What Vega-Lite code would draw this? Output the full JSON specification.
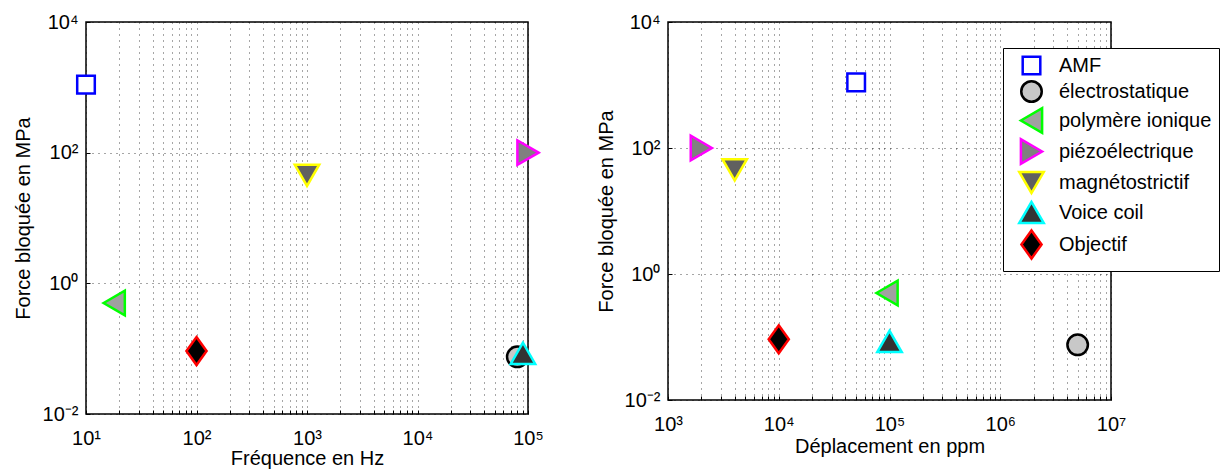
{
  "$schema": "https://vega.github.io/schema/vega-lite/v6.json",
  "padding": {"left": 12, "top": 11, "right": 5, "bottom": 5},
  "background": "white",
  "config": {
    "font": "Liberation Sans",
    "view": {"stroke": "black", "strokeWidth": 1.5},
    "axis": {
      "domain": false,
      "labelFontSize": 20,
      "titleFontSize": 20,
      "titleFontWeight": "normal",
      "labelColor": "black",
      "titleColor": "black",
      "tickColor": "black",
      "tickSize": -4,
      "gridDash": [1, 5],
      "gridColor": "black",
      "gridOpacity": 0.7,
      "gridWidth": 1,
      "labelOverlap": false,
      "labelFlush": false,
      "labelBound": false
    },
    "legend": {
      "labelFontSize": 20,
      "labelColor": "black",
      "symbolStrokeWidth": 2.5,
      "strokeColor": "black",
      "fillColor": "white",
      "padding": 7,
      "cornerRadius": 0,
      "rowPadding": -11,
      "symbolOffset": 6,
      "labelOffset": 12
    }
  },
  "datasets": {
    "freq": [
      {"type": "AMF", "frequence_hz": 10, "force_mpa": 1100},
      {"type": "électrostatique", "frequence_hz": 80000, "force_mpa": 0.075},
      {"type": "polymère ionique", "frequence_hz": 18, "force_mpa": 0.5},
      {"type": "piézoélectrique", "frequence_hz": 100000, "force_mpa": 100},
      {"type": "magnétostrictif", "frequence_hz": 1000, "force_mpa": 45},
      {"type": "Voice coil", "frequence_hz": 90000, "force_mpa": 0.085},
      {"type": "Objectif", "frequence_hz": 100, "force_mpa": 0.092}
    ],
    "depl": [
      {"type": "AMF", "deplacement_ppm": 50000, "force_mpa": 1100},
      {"type": "électrostatique", "deplacement_ppm": 5000000, "force_mpa": 0.075},
      {"type": "polymère ionique", "deplacement_ppm": 95000, "force_mpa": 0.5},
      {"type": "piézoélectrique", "deplacement_ppm": 2000, "force_mpa": 100},
      {"type": "magnétostrictif", "deplacement_ppm": 4000, "force_mpa": 45},
      {"type": "Voice coil", "deplacement_ppm": 100000, "force_mpa": 0.085},
      {"type": "Objectif", "deplacement_ppm": 10000, "force_mpa": 0.092}
    ]
  },
  "bounds": "flush",
  "spacing": 140,
  "resolve": {
    "scale": {"shape": "independent", "fill": "independent", "stroke": "independent", "size": "independent"},
    "legend": {"shape": "independent", "fill": "independent", "stroke": "independent", "size": "independent"}
  },
  "hconcat": [
    {
      "width": 442,
      "height": 392,
      "data": {"name": "freq"},
      "mark": {"type": "point", "filled": true, "strokeWidth": 2.5, "opacity": 1, "fillOpacity": 1, "strokeOpacity": 1},
      "encoding": {
        "x": {
          "field": "frequence_hz", "type": "quantitative",
          "scale": {"type": "log", "domain": [10, 100000], "nice": false},
          "axis": {
            "title": "Fréquence en Hz",
            "values": [10,20,30,40,50,60,70,80,90,100,200,300,400,500,600,700,800,900,1000,2000,3000,4000,5000,6000,7000,8000,9000,10000,20000,30000,40000,50000,60000,70000,80000,90000,100000],
            "labelExpr": "(abs(log(datum.value)/LN10 - round(log(datum.value)/LN10)) < 0.001) ? ('10' + (round(log(datum.value)/LN10) < 0 ? '⁻' : '') + ['⁰','¹','²','³','⁴','⁵','⁶','⁷','⁸','⁹'][abs(round(log(datum.value)/LN10))]) : ''",
            "grid": true,
            "labelPadding": 18,
            "titlePadding": 0
          }
        },
        "y": {
          "field": "force_mpa", "type": "quantitative",
          "scale": {"type": "log", "domain": [0.01, 10000], "nice": false},
          "axis": {
            "title": "Force bloquée en MPa",
            "values": [0.01, 1, 100, 10000],
            "labelExpr": "'10' + (round(log(datum.value)/LN10) < 0 ? '⁻' : '') + ['⁰','¹','²','³','⁴','⁵','⁶','⁷','⁸','⁹'][abs(round(log(datum.value)/LN10))]",
            "grid": true,
            "labelPadding": 12,
            "titlePadding": 9
          }
        },
        "shape": {
          "field": "type", "type": "nominal",
          "scale": {"domain": ["AMF","électrostatique","polymère ionique","piézoélectrique","magnétostrictif","Voice coil","Objectif"],
                    "range": ["square","circle","triangle-left","triangle-right","triangle-down","triangle-up","M0,-1L0.72,0L0,1L-0.72,0Z"]},
          "legend": null
        },
        "fill": {
          "field": "type", "type": "nominal",
          "scale": {"domain": ["AMF","électrostatique","polymère ionique","piézoélectrique","magnétostrictif","Voice coil","Objectif"],
                    "range": ["#ffffff","#c8c8c8","#a0a0a0","#808080","#606060","#333333","#000000"]},
          "legend": null
        },
        "stroke": {
          "field": "type", "type": "nominal",
          "scale": {"domain": ["AMF","électrostatique","polymère ionique","piézoélectrique","magnétostrictif","Voice coil","Objectif"],
                    "range": ["#0000ff","#000000","#00ff00","#ff00ff","#ffff00","#00ffff","#ff0000"]},
          "legend": null
        },
        "size": {
          "field": "type", "type": "nominal",
          "scale": {"type": "ordinal", "domain": ["AMF","électrostatique","polymère ionique","piézoélectrique","magnétostrictif","Voice coil","Objectif"],
                    "range": [310, 420, 600, 600, 600, 600, 784]},
          "legend": null
        }
      }
    },
    {
      "width": 443,
      "height": 378,
      "data": {"name": "depl"},
      "mark": {"type": "point", "filled": true, "strokeWidth": 2.5, "opacity": 1, "fillOpacity": 1, "strokeOpacity": 1},
      "encoding": {
        "x": {
          "field": "deplacement_ppm", "type": "quantitative",
          "scale": {"type": "log", "domain": [1000, 10000000], "nice": false},
          "axis": {
            "title": "Déplacement en ppm",
            "values": [1000,2000,3000,4000,5000,6000,7000,8000,9000,10000,20000,30000,40000,50000,60000,70000,80000,90000,100000,200000,300000,400000,500000,600000,700000,800000,900000,1000000,2000000,3000000,4000000,5000000,6000000,7000000,8000000,9000000,10000000],
            "labelExpr": "(abs(log(datum.value)/LN10 - round(log(datum.value)/LN10)) < 0.001) ? ('10' + (round(log(datum.value)/LN10) < 0 ? '⁻' : '') + ['⁰','¹','²','³','⁴','⁵','⁶','⁷','⁸','⁹'][abs(round(log(datum.value)/LN10))]) : ''",
            "grid": true,
            "labelPadding": 18,
            "titlePadding": 2
          }
        },
        "y": {
          "field": "force_mpa", "type": "quantitative",
          "scale": {"type": "log", "domain": [0.01, 10000], "nice": false},
          "axis": {
            "title": "Force bloquée en MPa",
            "values": [0.01, 1, 100, 10000],
            "labelExpr": "'10' + (round(log(datum.value)/LN10) < 0 ? '⁻' : '') + ['⁰','¹','²','³','⁴','⁵','⁶','⁷','⁸','⁹'][abs(round(log(datum.value)/LN10))]",
            "grid": true,
            "labelPadding": 12,
            "titlePadding": 8
          }
        },
        "shape": {
          "field": "type", "type": "nominal",
          "scale": {"domain": ["AMF","électrostatique","polymère ionique","piézoélectrique","magnétostrictif","Voice coil","Objectif"],
                    "range": ["square","circle","triangle-left","triangle-right","triangle-down","triangle-up","M0,-1L0.72,0L0,1L-0.72,0Z"]},
          "legend": {"title": null, "orient": "none", "legendX": 335, "legendY": 26}
        },
        "fill": {
          "field": "type", "type": "nominal",
          "scale": {"domain": ["AMF","électrostatique","polymère ionique","piézoélectrique","magnétostrictif","Voice coil","Objectif"],
                    "range": ["#ffffff","#c8c8c8","#a0a0a0","#808080","#606060","#333333","#000000"]},
          "legend": {"title": null, "orient": "none", "legendX": 335, "legendY": 26}
        },
        "stroke": {
          "field": "type", "type": "nominal",
          "scale": {"domain": ["AMF","électrostatique","polymère ionique","piézoélectrique","magnétostrictif","Voice coil","Objectif"],
                    "range": ["#0000ff","#000000","#00ff00","#ff00ff","#ffff00","#00ffff","#ff0000"]},
          "legend": {"title": null, "orient": "none", "legendX": 335, "legendY": 26}
        },
        "size": {
          "field": "type", "type": "nominal",
          "scale": {"type": "ordinal", "domain": ["AMF","électrostatique","polymère ionique","piézoélectrique","magnétostrictif","Voice coil","Objectif"],
                    "range": [310, 420, 600, 600, 600, 600, 784]},
          "legend": {"title": null, "orient": "none", "legendX": 335, "legendY": 26}
        }
      }
    }
  ]
}
